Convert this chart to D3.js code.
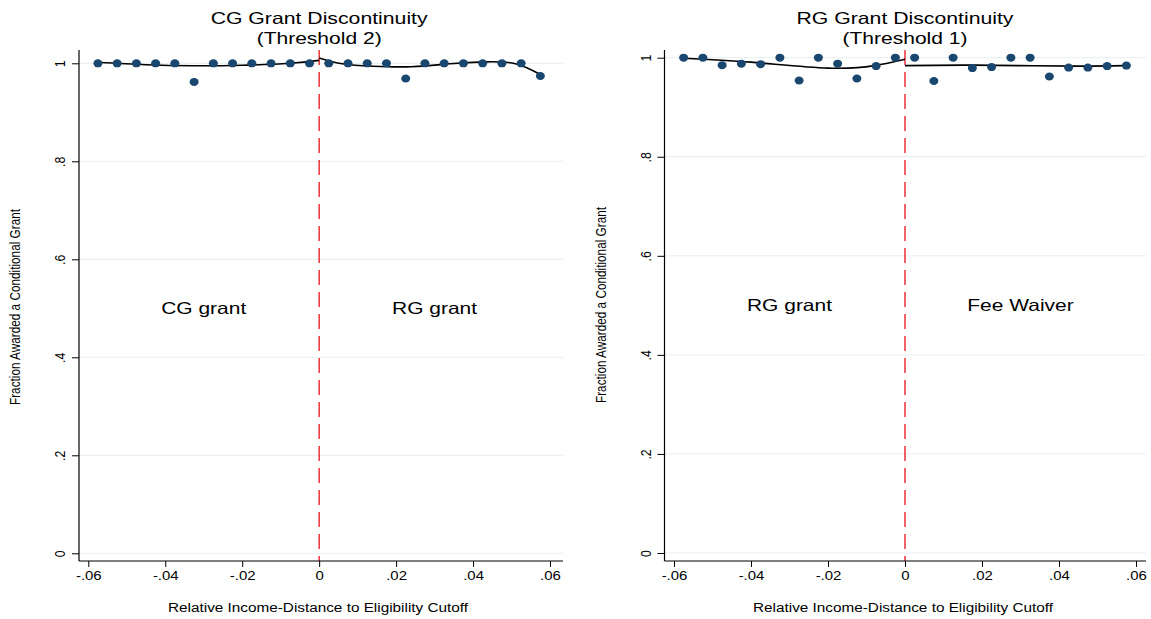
<!DOCTYPE html>
<html>
<head>
<meta charset="utf-8">
<script src="https://cdn.jsdelivr.net/npm/d3@7"></script>
<style>
  html, body { margin: 0; padding: 0; background: #ffffff; }
  svg { display: block; font-family: "Liberation Sans", Arial, Helvetica, sans-serif; }
</style>
</head>
<body>
<svg id="chart" width="1151" height="619"></svg>
<script>
// Bin midpoints of the relative income distance (below / above the cutoff)
const binsBelow = [-0.0575, -0.0525, -0.0475, -0.0425, -0.0375, -0.0325, -0.0275, -0.0225, -0.0175, -0.0125, -0.0075, -0.0025];
const binsAbove = [0.0025, 0.0075, 0.0125, 0.0175, 0.0225, 0.0275, 0.0325, 0.0375, 0.0425, 0.0475, 0.0525, 0.0575];

// CG grant discontinuity (threshold 2): binned share awarded a conditional grant
const cgBelowShare = [1.0, 1.0, 1.0, 1.0, 1.0, 0.962, 1.0, 1.0, 1.0, 1.0, 1.0, 1.0];
const cgAboveShare = [1.0, 1.0, 1.0, 1.0, 0.969, 1.0, 1.0, 1.0, 1.0, 1.0, 1.0, 0.974];
// local polynomial fits on each side of the cutoff
const cgFitBelowX = [-0.0575, -0.045, -0.0325, -0.02, -0.0075, 0];
const cgFitBelowY = [1.002, 0.997, 0.995, 0.996, 1.0, 1.006];
const cgFitAboveX = [0, 0.006, 0.014, 0.024, 0.034, 0.043, 0.051, 0.0575];
const cgFitAboveY = [1.011, 0.999, 0.994, 0.993, 0.999, 1.003, 0.999, 0.977];

// RG grant discontinuity (threshold 1)
const rgBelowShare = [1.0, 1.0, 0.985, 0.988, 0.987, 1.0, 0.954, 1.0, 0.988, 0.958, 0.983, 1.0];
const rgAboveShare = [1.0, 0.953, 1.0, 0.979, 0.981, 1.0, 1.0, 0.962, 0.98, 0.98, 0.983, 0.984];
const rgFitBelowX = [-0.0575, -0.04, -0.02, -0.008, 0];
const rgFitBelowY = [0.999, 0.991, 0.979, 0.984, 0.997];
const rgFitAboveX = [0, 0.015, 0.03, 0.045, 0.0575];
const rgFitAboveY = [0.984, 0.985, 0.984, 0.983, 0.984];

// Axis ticks and labels
const xTicks = [-0.06, -0.04, -0.02, 0, 0.02, 0.04, 0.06];
const xTickLabels = ["-.06", "-.04", "-.02", "0", ".02", ".04", ".06"];
const yTicks = [0, 0.2, 0.4, 0.6, 0.8, 1];
const yTickLabels = ["0", ".2", ".4", ".6", ".8", "1"];

const xTitle = "Relative Income-Distance to Eligibility Cutoff";
const yTitle = "Fraction Awarded a Conditional Grant";

const panels = [
  {
    title: ["CG Grant Discontinuity", "(Threshold 2)"],
    sideLabels: ["CG grant", "RG grant"],
    below: cgBelowShare, above: cgAboveShare,
    fitBelow: [cgFitBelowX, cgFitBelowY], fitAbove: [cgFitAboveX, cgFitAboveY],
    frame: { left: 79, right: 563, top: 50, bottom: 561 },
    xRange: [88.3, 550], yRange: [553.3, 63.3],
    yTitleX: 15, yTitleY: 307, xTitleX: 318
  },
  {
    title: ["RG Grant Discontinuity", "(Threshold 1)"],
    sideLabels: ["RG grant", "Fee Waiver"],
    below: rgBelowShare, above: rgAboveShare,
    fitBelow: [rgFitBelowX, rgFitBelowY], fitAbove: [rgFitAboveX, rgFitAboveY],
    frame: { left: 664.5, right: 1146, top: 50, bottom: 561 },
    xRange: [674, 1136], yRange: [553, 57.7],
    yTitleX: 601, yTitleY: 305, xTitleX: 903
  }
];

const svg = d3.select("#chart");
const dotColor = "#1a476f";
const gridColor = "#e6eef0";

// widen (or narrow) a text run to a given proportion of its natural length
function stretch(sel, factor) {
  sel.each(function () {
    const len = this.getComputedTextLength();
    d3.select(this).attr("textLength", len * factor).attr("lengthAdjust", "spacingAndGlyphs");
  });
}
function fitWidth(sel, width) {
  sel.attr("textLength", width).attr("lengthAdjust", "spacingAndGlyphs");
}

panels.forEach(p => {
  const g = svg.append("g");
  const x = d3.scaleLinear().domain([-0.06, 0.06]).range(p.xRange);
  const y = d3.scaleLinear().domain([0, 1]).range(p.yRange);
  const f = p.frame;

  // horizontal gridlines
  g.append("g").selectAll("line").data(yTicks).join("line")
    .attr("x1", f.left).attr("x2", f.right)
    .attr("y1", d => y(d)).attr("y2", d => y(d))
    .attr("stroke", gridColor).attr("stroke-width", 1);

  // cutoff line
  g.append("line")
    .attr("x1", x(0)).attr("x2", x(0))
    .attr("y1", f.top).attr("y2", f.bottom)
    .attr("stroke", "#e8121b").attr("stroke-width", 1.3)
    .attr("stroke-dasharray", "15,7");

  // y axis
  const yAxis = d3.axisLeft(y).tickValues(yTicks)
    .tickFormat((d, i) => yTickLabels[i]).tickSize(7).tickSizeOuter(0);
  const ya = g.append("g").attr("transform", `translate(${f.left},0)`).call(yAxis);
  ya.select(".domain").remove();
  ya.append("line").attr("x1", 0).attr("x2", 0).attr("y1", f.top).attr("y2", f.bottom)
    .attr("stroke", "#000").attr("stroke-width", 1.2);
  ya.selectAll(".tick line").attr("stroke", "#000").attr("stroke-width", 1);
  const yLabels = ya.selectAll(".tick text")
    .attr("x", 0).attr("y", 0).attr("dy", "0.36em")
    .attr("text-anchor", "middle")
    .attr("transform", "translate(-19,0) rotate(-90)")
    .attr("fill", "#000").attr("font-size", 14.5)
    .attr("font-family", "Liberation Sans, Arial, sans-serif");
  stretch(yLabels, 0.85);

  // x axis
  const xAxis = d3.axisBottom(x).tickValues(xTicks)
    .tickFormat((d, i) => xTickLabels[i]).tickSize(6).tickPadding(4).tickSizeOuter(0);
  const xa = g.append("g").attr("transform", `translate(0,${f.bottom})`).call(xAxis);
  xa.select(".domain").remove();
  xa.append("line").attr("x1", f.left).attr("x2", f.right).attr("y1", 0).attr("y2", 0)
    .attr("stroke", "#000").attr("stroke-width", 1.2);
  xa.selectAll(".tick line").attr("stroke", "#000").attr("stroke-width", 1);
  const xLabels = xa.selectAll(".tick text")
    .attr("fill", "#000").attr("font-size", 13)
    .attr("font-family", "Liberation Sans, Arial, sans-serif");
  stretch(xLabels, 1.15);

  // fitted curves on each side of the cutoff
  const line = d3.line().x(d => x(d[0])).y(d => y(d[1])).curve(d3.curveNatural);
  [p.fitBelow, p.fitAbove].forEach(fit => {
    const pts = fit[0].map((v, i) => [v, fit[1][i]]);
    g.append("path").datum(pts).attr("d", line)
      .attr("fill", "none").attr("stroke", "#000").attr("stroke-width", 1.6);
  });

  // binned means
  const pts = binsBelow.map((b, i) => [b, p.below[i]])
    .concat(binsAbove.map((b, i) => [b, p.above[i]]));
  g.append("g").selectAll("ellipse").data(pts).join("ellipse")
    .attr("cx", d => x(d[0])).attr("cy", d => y(d[1]))
    .attr("rx", 4.5).attr("ry", 4)
    .attr("fill", dotColor);

  // regime labels either side of the cutoff
  const sl = g.append("g").selectAll("text").data(p.sideLabels).join("text")
    .attr("x", (d, i) => x(i === 0 ? -0.03 : 0.03))
    .attr("y", y(0.5)).attr("dy", "0.36em")
    .attr("text-anchor", "middle").attr("font-size", 16.5).attr("fill", "#000")
    .text(d => d);
  stretch(sl, 1.27);

  // two-line title
  const cx = x(0);
  const t1 = g.append("text").attr("x", cx).attr("y", 23.5).attr("text-anchor", "middle")
    .attr("font-size", 16.5).attr("fill", "#000").text(p.title[0]);
  fitWidth(t1, 217);
  const t2 = g.append("text").attr("x", cx).attr("y", 44.3).attr("text-anchor", "middle")
    .attr("font-size", 16.5).attr("fill", "#000").text(p.title[1]);
  fitWidth(t2, 125);

  // axis titles
  const xt = g.append("text").attr("x", p.xTitleX).attr("y", 612).attr("text-anchor", "middle")
    .attr("font-size", 12.5).attr("fill", "#000").text(xTitle);
  fitWidth(xt, 300);
  const yt = g.append("text")
    .attr("transform", `translate(${p.yTitleX},${p.yTitleY}) rotate(-90)`)
    .attr("text-anchor", "middle").attr("dy", "0.36em")
    .attr("font-size", 14).attr("fill", "#000").text(yTitle);
  fitWidth(yt, 196);
});
</script>
</body>
</html>
